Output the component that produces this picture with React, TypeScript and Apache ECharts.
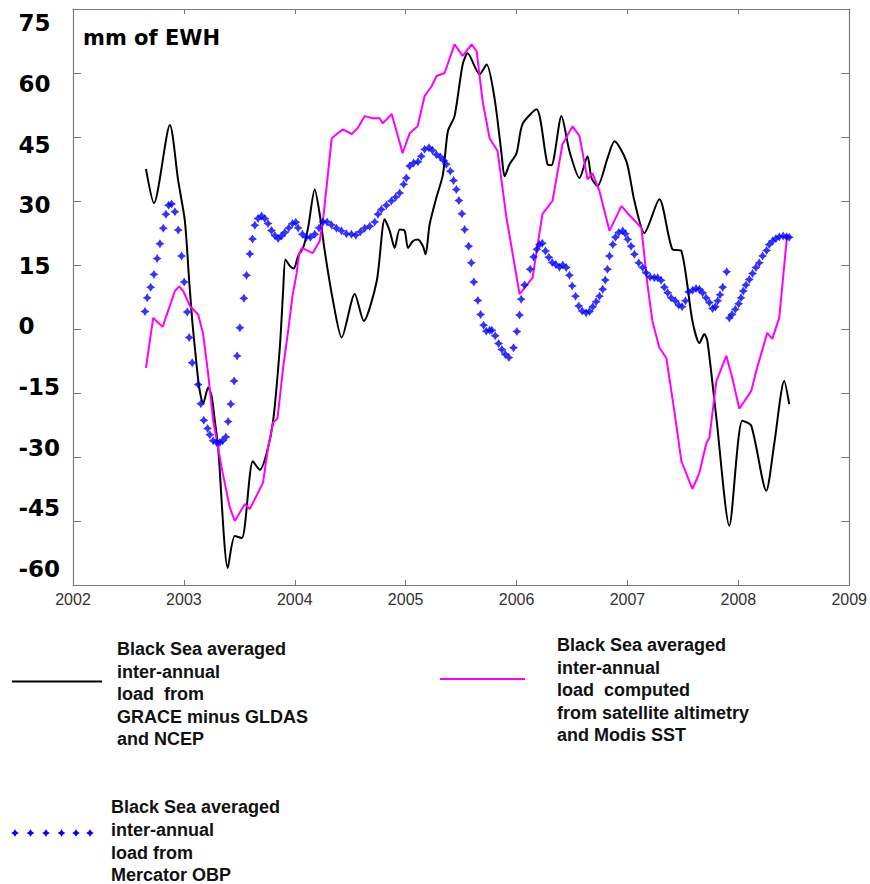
import React, { useEffect, useRef } from "react";
import * as echarts from "echarts";

// ---------- data ----------
const yTickLabels = [75, 60, 45, 30, 15, 0, -15, -30, -45, -60];
const unitLabel = "mm of EWH";

const graceYears = [
  2002.658, 2002.73, 2002.874, 2002.949, 2003.009, 2003.048, 2003.078, 2003.108, 2003.138, 2003.174,
  2003.219, 2003.25, 2003.279, 2003.309, 2003.396, 2003.459, 2003.523, 2003.622, 2003.685, 2003.748,
  2003.805, 2003.865, 2003.895, 2003.916, 2003.955, 2003.991, 2004.03, 2004.075, 2004.12, 2004.18,
  2004.225, 2004.27, 2004.345, 2004.423, 2004.541, 2004.622, 2004.739, 2004.811, 2004.856, 2004.901,
  2004.946, 2004.991, 2005.021, 2005.066, 2005.111, 2005.156, 2005.18, 2005.216, 2005.276, 2005.336,
  2005.381, 2005.441, 2005.514, 2005.559, 2005.667, 2005.73, 2005.802, 2005.865, 2005.892, 2005.937,
  2006.0, 2006.054, 2006.18, 2006.279, 2006.315, 2006.405, 2006.477, 2006.568, 2006.64, 2006.676,
  2006.73, 2006.82, 2006.883, 2006.991, 2007.063, 2007.153, 2007.288, 2007.405, 2007.486, 2007.586,
  2007.649, 2007.694, 2007.721, 2007.802, 2007.919, 2008.036, 2008.117, 2008.252, 2008.324, 2008.414,
  2008.459,
];
const graceValues = [
  37.5, 29.5, 47.8, 34.7, 25.3, 11.2, 1.2, -6.7, -13.7, -17.5,
  -13.7, -15.7, -21.5, -27.8, -56, -48.5, -49, -31, -33, -29,
  -21.5, -4.4, 8.9, 16.3, 14.8, 14.2, 17.1, 19, 23.7, 32.7,
  26.9, 18.3, 6.6, -2, 8.2, 1.9, 11.2, 25.7, 23, 19,
  23.3, 23, 19, 20.6, 21, 19.4, 17.5, 24.5, 30.7, 36.2,
  46.4, 49.9, 62, 64.6, 59.7, 62, 54, 41, 35.8, 38.6,
  41.2, 48, 51.5, 38.6, 38.4, 49.9, 41.7, 35.4, 40.5, 35.4,
  33.5, 40, 44, 39.3, 30, 22.5, 30.4, 18.7, 18.3, 1.9,
  -3.3, -1.2, -2.8, -20.8, -46.1, -21.5, -22.7, -37.9, -26.9, -12.2,
  -17.6,
];

const altimetryYears = [
  2002.658, 2002.723, 2002.808, 2002.919, 2002.958, 2002.994, 2003.054, 2003.129, 2003.174, 2003.219,
  2003.264, 2003.309, 2003.34, 2003.414, 2003.459, 2003.55, 2003.595, 2003.714, 2003.759, 2003.805,
  2003.844, 2003.895, 2003.94, 2003.979, 2004.015, 2004.039, 2004.063, 2004.162, 2004.225, 2004.261,
  2004.333, 2004.432, 2004.514, 2004.568, 2004.631, 2004.703, 2004.766, 2004.793, 2004.874, 2004.973,
  2005.036, 2005.108, 2005.171, 2005.234, 2005.279, 2005.351, 2005.441, 2005.514, 2005.595, 2005.64,
  2005.694, 2005.757, 2005.829, 2005.91, 2006.027, 2006.144, 2006.234, 2006.324, 2006.414, 2006.505,
  2006.568, 2006.64, 2006.685, 2006.748, 2006.838, 2006.946, 2007.0, 2007.126, 2007.18, 2007.225,
  2007.288, 2007.351, 2007.423, 2007.486, 2007.586, 2007.649, 2007.712, 2007.739, 2007.802, 2007.892,
  2007.946, 2008.009, 2008.117, 2008.162, 2008.261, 2008.306, 2008.369, 2008.441,
];
const altimetryValues = [
  -9.1, 2.6, 0.5, 8.9, 10, 8.9, 5.4, 3.4, -1.2, -10.6,
  -21.5, -27.8, -32.5, -41.8, -45, -41, -42.2, -36, -27.8, -21.9,
  -21, -9.1, -0.5, 7.7, 12.8, 17.5, 19, 17.8, 20.6, 27,
  44.7, 46.8, 45.7, 47.1, 49.9, 49.4, 49.4, 48.2, 50.4, 41.2,
  45.9, 47.5, 54.6, 56.9, 59.3, 60, 66.7, 64, 66.7, 65.1,
  53.4, 44.7, 41.7, 26, 8.2, 12, 27, 30, 43.3, 47.5,
  45.2, 35.1, 36.5, 32.3, 23, 28.8, 27.2, 23.7, 10.5, 1.9,
  -4.4, -6.8, -19.2, -30.9, -37.5, -33.7, -26.7, -25.5, -12.2, -6.3,
  -11.5, -18.7, -14.5, -9.8, -0.9, -2.3, 2.6, 22.2,
];

const mercatorYears = [
  2002.649, 2002.669, 2002.7, 2002.73, 2002.759, 2002.784, 2002.814, 2002.838, 2002.862, 2002.889,
  2002.919, 2002.949, 2002.979, 2003.003, 2003.03, 2003.048, 2003.075, 2003.129, 2003.153, 2003.18,
  2003.214, 2003.234, 2003.264, 2003.295, 2003.324, 2003.349, 2003.378, 2003.399, 2003.423, 2003.453,
  2003.48, 2003.505, 2003.541, 2003.565, 2003.595, 2003.619, 2003.64, 2003.669, 2003.7, 2003.73,
  2003.759, 2003.79, 2003.82, 2003.85, 2003.88, 2003.91, 2003.946, 2003.979, 2004.009, 2004.03,
  2004.069, 2004.105, 2004.141, 2004.18, 2004.219, 2004.255, 2004.291, 2004.331, 2004.376, 2004.421,
  2004.466, 2004.511, 2004.55, 2004.592, 2004.631, 2004.676, 2004.721, 2004.75, 2004.781, 2004.826,
  2004.871, 2004.91, 2004.946, 2004.982, 2005.006, 2005.036, 2005.072, 2005.111, 2005.141, 2005.171,
  2005.21, 2005.241, 2005.277, 2005.313, 2005.342, 2005.367, 2005.403, 2005.432, 2005.457, 2005.48,
  2005.507, 2005.532, 2005.568, 2005.592, 2005.615, 2005.651, 2005.676, 2005.703, 2005.727, 2005.757,
  2005.777, 2005.808, 2005.838, 2005.868, 2005.898, 2005.931, 2005.973, 2006.003, 2006.027, 2006.042,
  2006.072, 2006.123, 2006.153, 2006.183, 2006.207, 2006.232, 2006.261, 2006.291, 2006.322, 2006.354,
  2006.387, 2006.417, 2006.448, 2006.477, 2006.502, 2006.532, 2006.561, 2006.592, 2006.627, 2006.658,
  2006.687, 2006.718, 2006.748, 2006.777, 2006.8, 2006.82, 2006.838, 2006.868, 2006.892, 2006.922,
  2006.958, 2006.982, 2007.003, 2007.033, 2007.063, 2007.102, 2007.138, 2007.168, 2007.205, 2007.243,
  2007.273, 2007.304, 2007.333, 2007.363, 2007.394, 2007.432, 2007.462, 2007.493, 2007.523, 2007.552,
  2007.588, 2007.619, 2007.649, 2007.678, 2007.709, 2007.739, 2007.768, 2007.793, 2007.814, 2007.835,
  2007.859, 2007.895, 2007.919, 2007.943, 2007.973, 2008.003, 2008.024, 2008.045, 2008.069, 2008.099,
  2008.128, 2008.159, 2008.189, 2008.219, 2008.255, 2008.279, 2008.309, 2008.339, 2008.369, 2008.405,
  2008.435, 2008.459,
];
const mercatorValues = [
  4.1, 7.3, 9.8, 12.8, 16.5, 20, 23.6, 26.9, 29, 29.3,
  27.5, 23.2, 17.1, 11, 4, -2, -7.9, -13, -17.5, -21.4,
  -23.3, -24.8, -26.2, -26.6, -26.6, -26.2, -25.3, -21.7, -17.6, -12.2,
  -6.3, 0.3, 7.2, 12.6, 17.6, 21.1, 24.3, 25.9, 26.5, 25.9,
  24.7, 23.1, 21.9, 21.2, 21.8, 22.6, 23.7, 24.7, 25, 23.7,
  22.2, 21.5, 21.5, 22.2, 23.7, 25.1, 25.1, 24.4, 23.6, 23,
  22.3, 22.2, 22, 22.8, 23.6, 24.1, 25.1, 26.9, 28, 29,
  30, 30.9, 31.9, 33.9, 35.4, 38.2, 38.9, 39.2, 40.5, 42.1,
  42.5, 41.9, 40.9, 40.3, 39.5, 38.6, 37, 34.8, 32.7, 30.1,
  27, 23.3, 19.4, 15.5, 11, 6.7, 3.4, 0.9, -0.5, -0.3,
  -0.3, -1.6, -3.4, -4.8, -5.9, -6.7, -4.4, -0.6, 3.3, 7,
  10.3, 14, 16.9, 18.7, 19.8, 20.1, 18.3, 16.8, 15.6, 15.1,
  14.5, 15, 14.4, 12.6, 10.1, 7.7, 5.4, 4.2, 3.8, 4.1,
  5.2, 6.4, 7.7, 9.3, 11.5, 14, 17.1, 19.8, 21.5, 22.6,
  23, 22.3, 21, 19.4, 17.5, 15.5, 14.4, 13.2, 12.2, 12,
  12, 11.4, 9.8, 8.5, 7.3, 6.6, 5.6, 5.2, 6.6, 8.7,
  9.1, 9.5, 9.3, 8.5, 7.3, 6.2, 4.8, 5.2, 6.6, 8,
  9.8, 13.4, 2.6, 3.4, 4.6, 5.9, 7.3, 8.9, 10.3, 11.6,
  13, 14.4, 15.5, 17.1, 18.4, 19.8, 20.6, 21.2, 21.6, 21.8,
  21.6, 21.5,
];

const legendGrace = ["Black Sea averaged", "inter-annual", "load  from", "GRACE minus GLDAS", "and NCEP"];
const legendAltimetry = ["Black Sea averaged", "inter-annual", "load  computed", "from satellite altimetry", "and Modis SST"];
const legendMercator = ["Black Sea averaged", "inter-annual", "load from", "Mercator OBP"];

// ---------- helpers ----------
const pair = (xs: number[], ys: number[]) => xs.map((x, i) => [x, ys[i]]);
const starPath = "path://M5,0 L6.9,3.1 L10,5 L6.9,6.9 L5,10 L3.1,6.9 L0,5 L3.1,3.1 Z";
const starPoly = (cx: number, cy: number, r: number) => {
  const k = r * 0.38;
  return [
    [cx, cy - r], [cx + k, cy - k], [cx + r, cy], [cx + k, cy + k],
    [cx, cy + r], [cx - k, cy + k], [cx - r, cy], [cx - k, cy - k],
  ];
};

const GRID_LEFT = 73;
const GRID_TOP = 9;
const GRID_RIGHT = 20;
const GRID_BOTTOM = 299;
const FRAME = "#7a7a7a";

export default function App() {
  const ref = useRef<HTMLDivElement>(null);

  useEffect(() => {
    if (!ref.current) return;
    const chart = echarts.init(ref.current, undefined, { renderer: "svg" });

    const legendFont = "bold 18px 'Liberation Sans', Arial, sans-serif";
    const legendMarkers = [15, 30.5, 46, 61.5, 76, 90].map((cx) => ({
      type: "polygon",
      shape: { points: starPoly(cx, 833, 3.8) },
      style: { fill: "#0000ff" },
    }));

    chart.setOption({
      animation: false,
      backgroundColor: "#ffffff",
      grid: { left: GRID_LEFT, top: GRID_TOP, right: GRID_RIGHT, bottom: GRID_BOTTOM, containLabel: false },
      xAxis: [
        {
          type: "value",
          min: 2002,
          max: 2009,
          interval: 1,
          position: "bottom",
          axisLine: { show: true, onZero: false, lineStyle: { color: FRAME, width: 1.2 } },
          axisTick: { show: true, inside: true, length: 5, lineStyle: { color: FRAME } },
          axisLabel: {
            show: true,
            margin: 6,
            fontSize: 16,
            fontFamily: "'Liberation Sans', Arial, sans-serif",
            color: "#333",
            formatter: (v: number) => String(v),
          },
          splitLine: { show: false },
        },
        {
          type: "value",
          min: 2002,
          max: 2009,
          interval: 1,
          position: "top",
          axisLine: { show: true, onZero: false, lineStyle: { color: FRAME, width: 1.2 } },
          axisTick: { show: true, inside: true, length: 5, lineStyle: { color: FRAME } },
          axisLabel: { show: false },
          splitLine: { show: false },
        },
      ],
      yAxis: [
        {
          type: "value",
          min: -60,
          max: 75,
          interval: 15,
          position: "left",
          axisLine: { show: true, onZero: false, lineStyle: { color: FRAME, width: 1.2 } },
          axisTick: { show: true, inside: true, length: 8, lineStyle: { color: FRAME } },
          axisLabel: { show: false },
          splitLine: { show: false },
        },
        {
          type: "value",
          min: -60,
          max: 75,
          interval: 15,
          position: "right",
          axisLine: { show: true, onZero: false, lineStyle: { color: FRAME, width: 1.2 } },
          axisTick: { show: true, inside: true, length: 8, lineStyle: { color: FRAME } },
          axisLabel: { show: false },
          splitLine: { show: false },
        },
        {
          // label-only axis: the reference's tick labels are spread slightly tighter than its ticks
          type: "value",
          min: -63.97,
          max: 78.54,
          position: "left",
          axisLine: { show: false },
          axisTick: { show: false },
          splitLine: { show: false },
          axisLabel: {
            show: true,
            customValues: yTickLabels,
            align: "left",
            margin: 54.5,
            fontSize: 23,
            fontWeight: "bold",
            fontFamily: "'DejaVu Sans', sans-serif",
            color: "#000",
            formatter: (v: number) => String(v),
          },
        },
      ],
      series: [
        {
          name: "GRACE minus GLDAS and NCEP",
          type: "line",
          xAxisIndex: 0,
          yAxisIndex: 0,
          data: pair(graceYears, graceValues),
          showSymbol: false,
          smooth: 0.25,
          lineStyle: { color: "#000000", width: 2 },
          z: 3,
        },
        {
          name: "Satellite altimetry and Modis SST",
          type: "line",
          xAxisIndex: 0,
          yAxisIndex: 0,
          data: pair(altimetryYears, altimetryValues),
          showSymbol: false,
          lineStyle: { color: "#ff00ff", width: 2 },
          z: 4,
        },
        {
          name: "Mercator OBP",
          type: "scatter",
          xAxisIndex: 0,
          yAxisIndex: 0,
          data: pair(mercatorYears, mercatorValues),
          symbol: starPath,
          symbolSize: 9,
          itemStyle: { color: "#0000ff" },
          z: 5,
        },
      ],
      graphic: [
        {
          type: "text",
          left: 83,
          top: 27,
          style: {
            text: unitLabel,
            font: "bold 21px 'DejaVu Sans', sans-serif",
            fill: "#000",
          },
        },
        {
          type: "line",
          shape: { x1: 12, y1: 681.5, x2: 102, y2: 681.5 },
          style: { stroke: "#000", lineWidth: 2 },
        },
        {
          type: "text",
          left: 117,
          top: 638,
          style: { text: legendGrace.join("\n"), font: legendFont, lineHeight: 22.5, fill: "#111" },
        },
        {
          type: "line",
          shape: { x1: 440, y1: 679, x2: 525, y2: 679 },
          style: { stroke: "#ff00ff", lineWidth: 2 },
        },
        {
          type: "text",
          left: 557,
          top: 634,
          style: { text: legendAltimetry.join("\n"), font: legendFont, lineHeight: 22.5, fill: "#111" },
        },
        ...legendMarkers,
        {
          type: "text",
          left: 111,
          top: 796,
          style: { text: legendMercator.join("\n"), font: legendFont, lineHeight: 22.6, fill: "#111" },
        },
      ],
    });

    return () => chart.dispose();
  }, []);

  return (
    <div
      ref={ref}
      style={{ position: "absolute", left: 0, top: 0, width: 870, height: 884, background: "#fff" }}
    />
  );
}
